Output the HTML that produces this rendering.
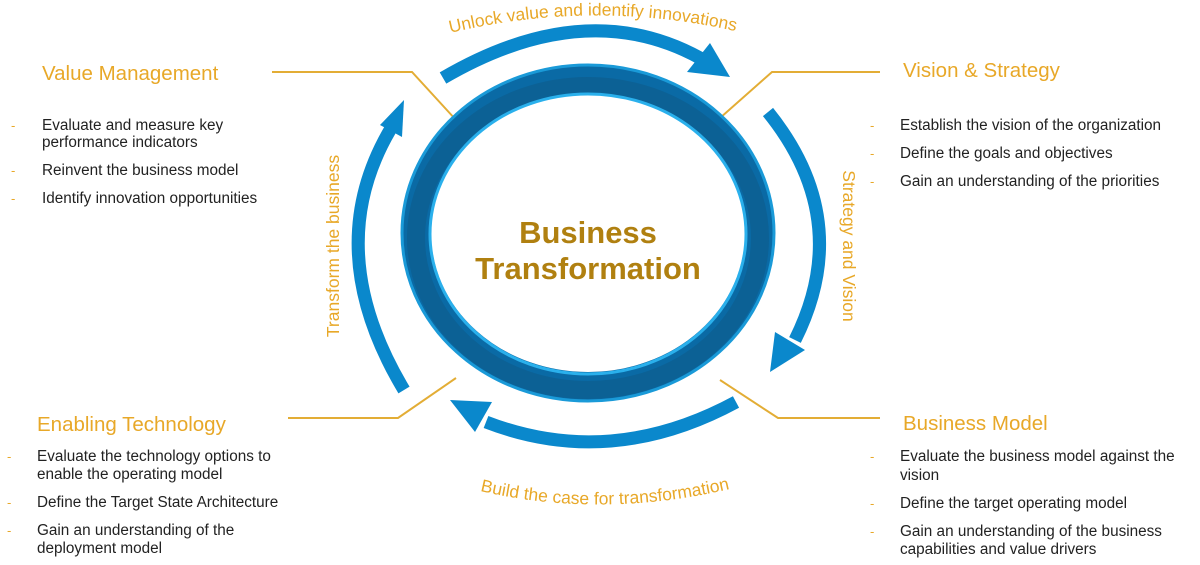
<!DOCTYPE html>
<html><head><meta charset="utf-8"><style>
html,body{margin:0;padding:0;background:#fff;}
svg{display:block;font-family:"Liberation Sans",Arial,sans-serif;}
.t{fill:#e8a828;font-size:20.5px;}
.b{fill:#222;font-size:15.3px;}
.d{fill:#e8a828;font-size:13px;}
.g{fill:#e8a828;font-size:17.5px;}
</style></head><body>
<svg width="1200" height="565" viewBox="0 0 1200 565">
<defs>
<path id="tp" d="M438,36 Q592,-4 748,34"/>
<path id="bp" d="M468,488 Q600,522 742,486"/>
</defs>
<g fill="none" stroke="#e3ad35" stroke-width="2">
<polyline points="272,72 412,72 456,120"/>
<polyline points="880,72 772,72 720,118"/>
<polyline points="288,418 398,418 456,378"/>
<polyline points="880,418 778,418 720,380"/>
</g>
<ellipse cx="588" cy="233" rx="172" ry="154" fill="none" stroke="#0a6aa5" stroke-width="30"/>
<ellipse cx="588" cy="238" rx="172" ry="152" fill="none" stroke="#0e5785" stroke-width="18" opacity="0.5"/>
<ellipse cx="588" cy="233" rx="186" ry="168" fill="none" stroke="#1a9ad8" stroke-width="3"/>
<ellipse cx="588" cy="234" rx="158" ry="140" fill="none" stroke="#2ab0ec" stroke-width="3"/>
<g fill="none" stroke="#0a88cc" stroke-width="13">
<path d="M443,78 Q585,-5 700,58"/>
<path d="M768,112 Q855,220 795,340"/>
<path d="M736,402 Q610,470 486,422"/>
<path d="M404,390 Q320,250 390,130"/>
</g>
<g fill="#0a88cc">
<polygon points="710,43 730,77 687,72"/>
<polygon points="770,372 775,332 805,350"/>
<polygon points="450,400 492,402 475,432"/>
<polygon points="404,100 380,125 402,137"/>
</g>
<text x="588" y="243" text-anchor="middle" font-size="31" font-weight="bold" fill="#b08010">Business</text>
<text x="588" y="279" text-anchor="middle" font-size="31" font-weight="bold" fill="#b08010">Transformation</text>
<text class="g"><textPath href="#tp" startOffset="50%" text-anchor="middle">Unlock value and identify innovations</textPath></text>
<text class="g"><textPath href="#bp" startOffset="50%" text-anchor="middle">Build the case for transformation</textPath></text>
<text class="g" transform="translate(339,246) rotate(-90)" text-anchor="middle">Transform the business</text>
<text class="g" transform="translate(843,246) rotate(90)" text-anchor="middle">Strategy and Vision</text>
<text class="t" x="42" y="80">Value Management</text>
<text class="d" x="11" y="130">-</text><text class="b" x="42" y="130">Evaluate and measure key</text>
<text class="b" x="42" y="147">performance indicators</text>
<text class="d" x="11" y="175">-</text><text class="b" x="42" y="175">Reinvent the business model</text>
<text class="d" x="11" y="203">-</text><text class="b" x="42" y="203">Identify innovation opportunities</text>
<text class="t" x="903" y="77">Vision &amp; Strategy</text>
<text class="d" x="870" y="130">-</text><text class="b" x="900" y="130">Establish the vision of the organization</text>
<text class="d" x="870" y="158">-</text><text class="b" x="900" y="158">Define the goals and objectives</text>
<text class="d" x="870" y="186">-</text><text class="b" x="900" y="186">Gain an understanding of the priorities</text>
<text class="t" x="37" y="431">Enabling Technology</text>
<text class="d" x="7" y="461">-</text><text class="b" x="37" y="461">Evaluate the technology options to</text>
<text class="b" x="37" y="479">enable the operating model</text>
<text class="d" x="7" y="507">-</text><text class="b" x="37" y="507">Define the Target State Architecture</text>
<text class="d" x="7" y="535">-</text><text class="b" x="37" y="535">Gain an understanding of the</text>
<text class="b" x="37" y="553">deployment model</text>
<text class="t" x="903" y="430">Business Model</text>
<text class="d" x="870" y="461">-</text><text class="b" x="900" y="461">Evaluate the business model against the</text>
<text class="b" x="900" y="480">vision</text>
<text class="d" x="870" y="508">-</text><text class="b" x="900" y="508">Define the target operating model</text>
<text class="d" x="870" y="536">-</text><text class="b" x="900" y="536">Gain an understanding of the business</text>
<text class="b" x="900" y="554">capabilities and value drivers</text>
</svg>
</body></html>
